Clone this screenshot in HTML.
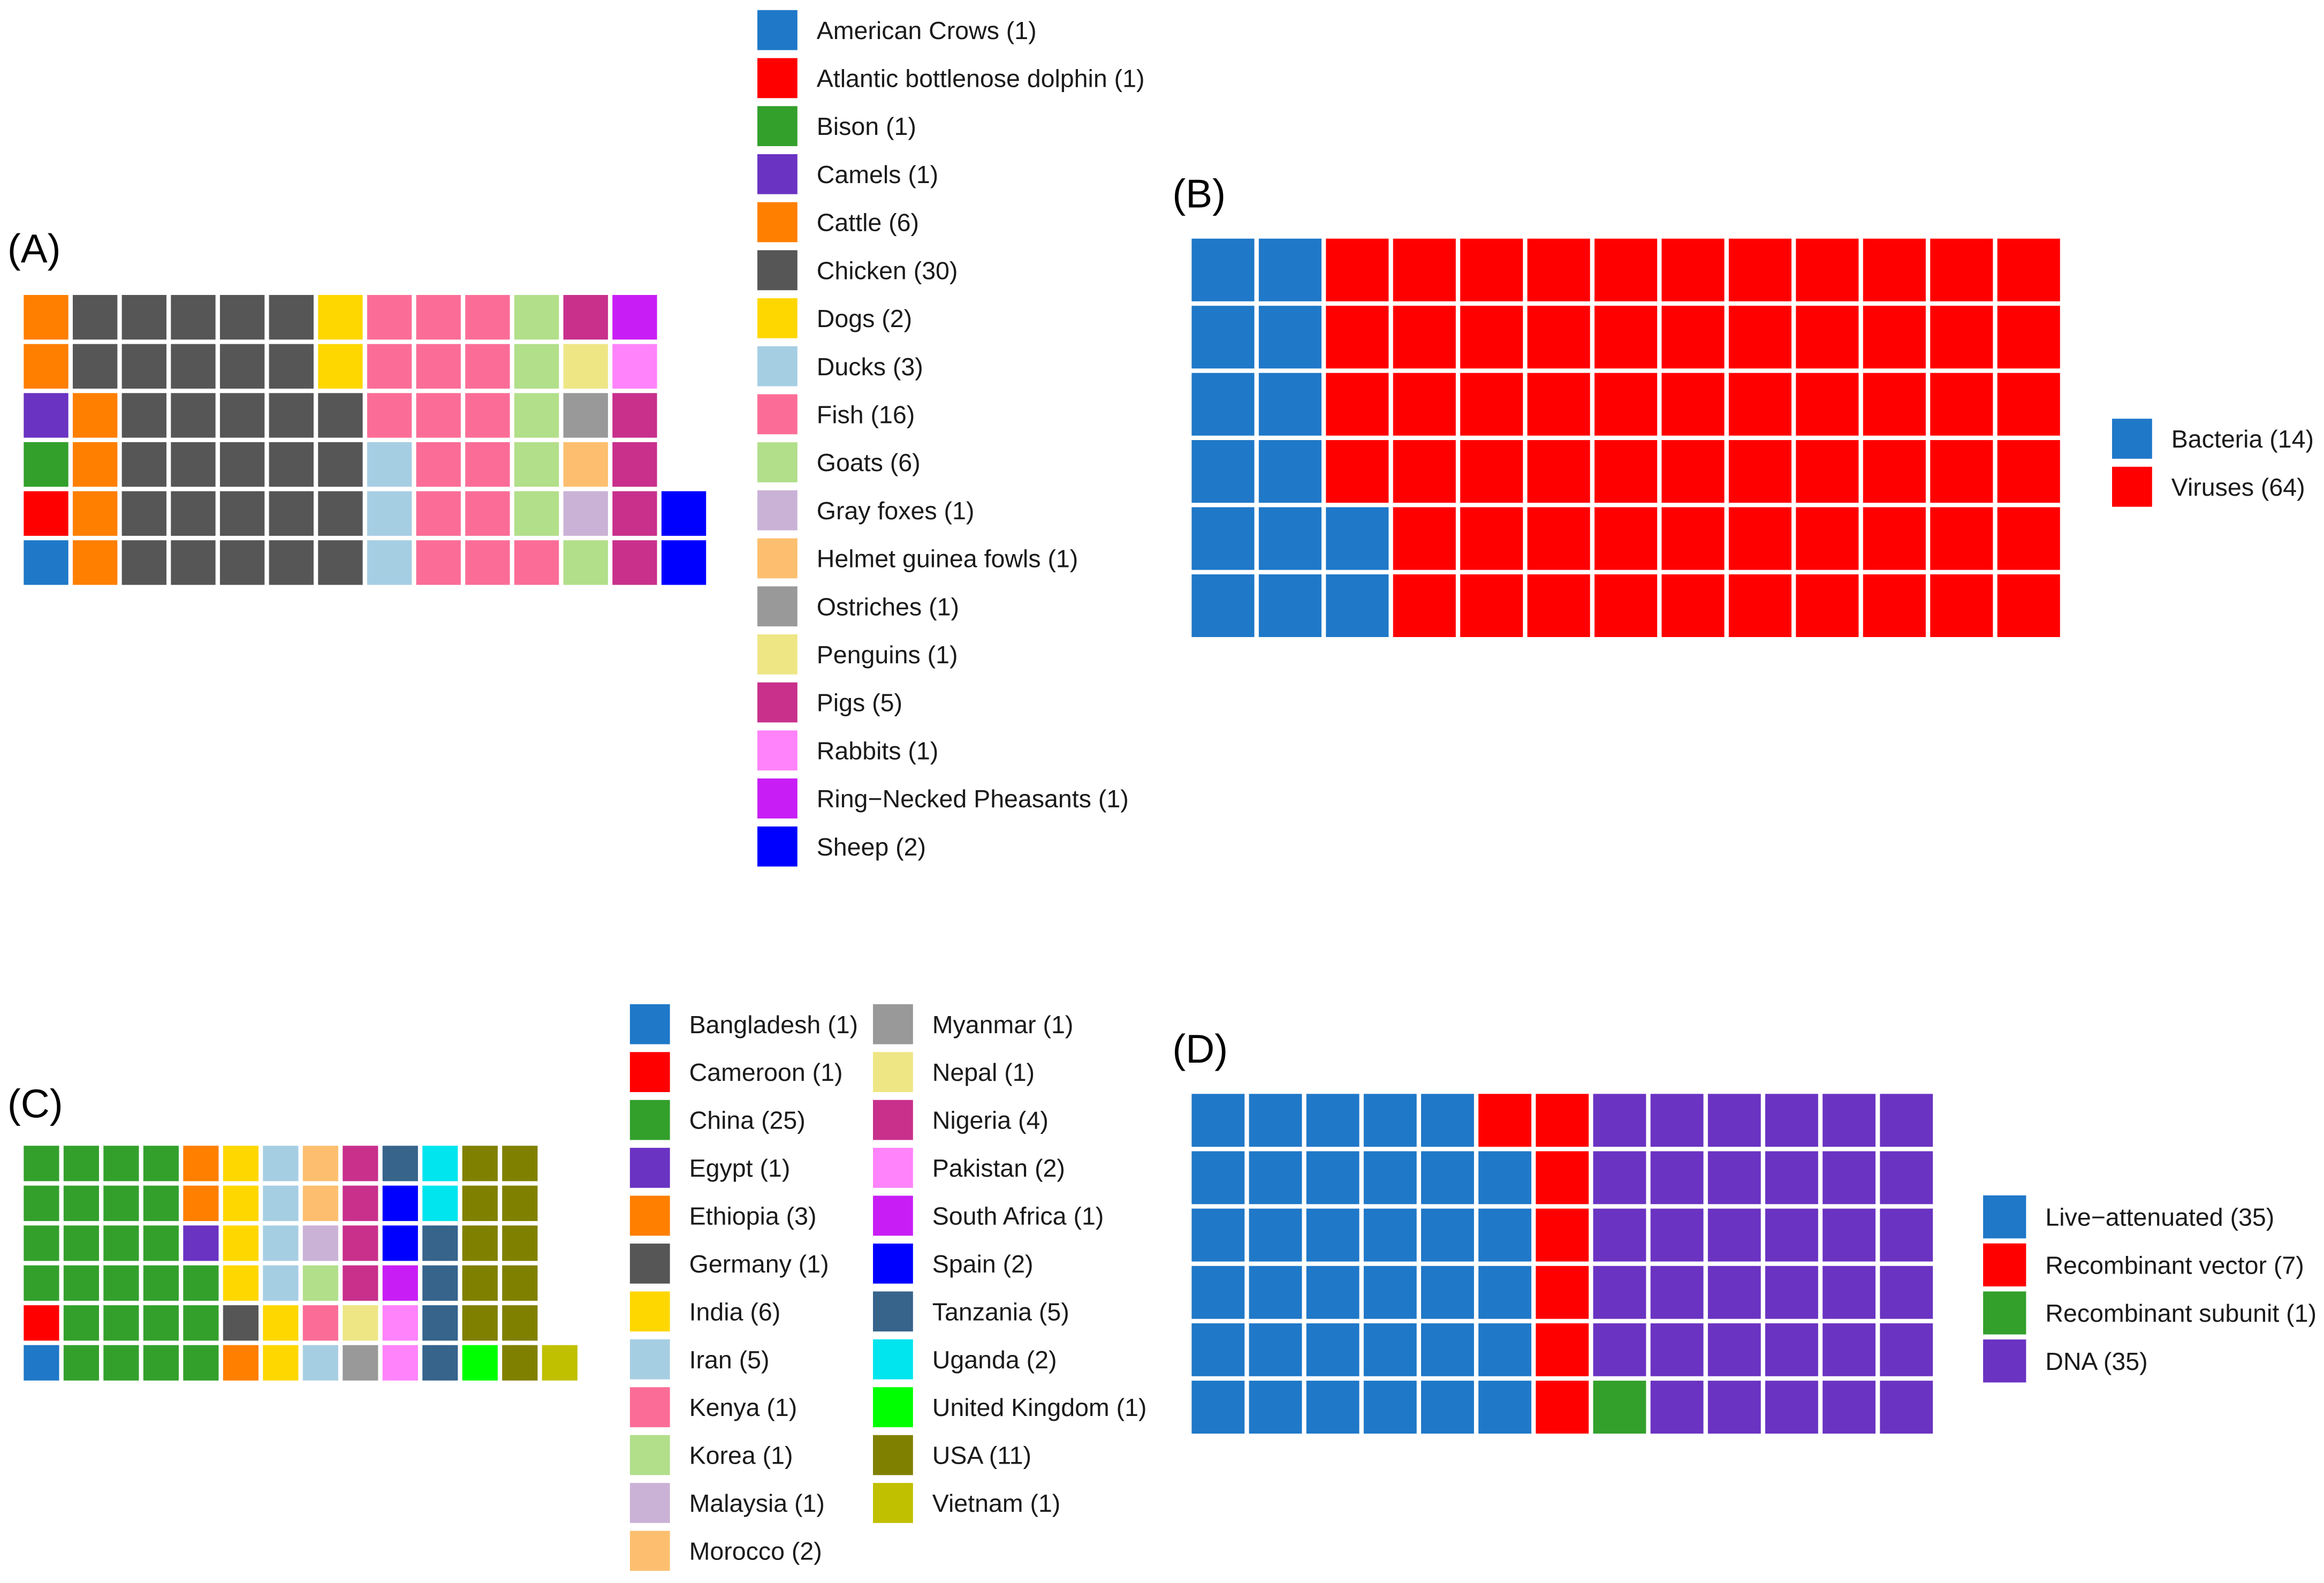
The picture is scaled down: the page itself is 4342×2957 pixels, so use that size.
<!DOCTYPE html>
<html><head><meta charset="utf-8"><style>
html,body{margin:0;padding:0;background:#fff;}
svg{display:block;font-family:"Liberation Sans",Arial,sans-serif;}
</style></head><body>
<svg id="fig" width="4342" height="2957" viewBox="0 0 1568 1068" preserveAspectRatio="none" xmlns="http://www.w3.org/2000/svg">
<rect width="1568" height="1068" fill="#fff"/>
<text x="5" y="177" font-size="27">(A)</text>
<text x="791" y="140" font-size="27">(B)</text>
<text x="5" y="754" font-size="27">(C)</text>
<text x="791" y="717" font-size="27">(D)</text>
</svg>
<script>
// Panel A: animal hosts
const hostNames = ["American Crows","Atlantic bottlenose dolphin","Bison","Camels","Cattle","Chicken","Dogs","Ducks","Fish","Goats","Gray foxes","Helmet guinea fowls","Ostriches","Penguins","Pigs","Rabbits","Ring\u2212Necked Pheasants","Sheep"];
const hostCounts = [1,1,1,1,6,30,2,3,16,6,1,1,1,1,5,1,1,2];
const hostColors = ["#1f78c8","#ff0000","#33a02c","#6a33c2","#ff7f00","#565656","#ffd700","#a6cee3","#fb6d97","#b2df8a","#cab2d6","#fdbf6f","#999999","#eee685","#c8308c","#ff83fa","#c81ef5","#0000ff"];
// Panel B: pathogen type
const pathNames = ["Bacteria","Viruses"];
const pathCounts = [14,64];
const pathColors = ["#1f78c8","#ff0000"];
// Panel C: countries
const countryNames = ["Bangladesh","Cameroon","China","Egypt","Ethiopia","Germany","India","Iran","Kenya","Korea","Malaysia","Morocco","Myanmar","Nepal","Nigeria","Pakistan","South Africa","Spain","Tanzania","Uganda","United Kingdom","USA","Vietnam"];
const countryCounts = [1,1,25,1,3,1,6,5,1,1,1,2,1,1,4,2,1,2,5,2,1,11,1];
const countryColors = ["#1f78c8","#ff0000","#33a02c","#6a33c2","#ff7f00","#565656","#ffd700","#a6cee3","#fb6d97","#b2df8a","#cab2d6","#fdbf6f","#999999","#eee685","#c8308c","#ff83fa","#c81ef5","#0000ff","#36648b","#00e5ee","#00ff00","#808000","#c0c000"];
// Panel D: vaccine types
const vacNames = ["Live\u2212attenuated","Recombinant vector","Recombinant subunit","DNA"];
const vacCounts = [35,7,1,35];
const vacColors = ["#1f78c8","#ff0000","#33a02c","#6a33c2"];

const svg = document.getElementById('fig');
const NS = "http://www.w3.org/2000/svg";
function waffle(counts, colors, names, x0, yTop, pitch, gap, prefix){
  const rows = 6; let k = 0;
  counts.forEach((c, ci) => {
    for (let i = 0; i < c; i++, k++) {
      const col = Math.floor(k / rows), row = k % rows;
      const r = document.createElementNS(NS, 'rect');
      r.setAttribute('x', x0 + col * pitch);
      r.setAttribute('y', yTop + (rows - 1 - row) * pitch);
      r.setAttribute('width', pitch - gap);
      r.setAttribute('height', pitch - gap);
      r.setAttribute('fill', colors[ci]);
      
      
      svg.appendChild(r);
    }
  });
}
function legend(counts, colors, names, sx, y0, step, sw, start, end, prefix){
  for (let i = start; i < end; i++) {
    const y = y0 + (i - start) * step;
    const g = document.createElementNS(NS, 'g');
    
    
    const r = document.createElementNS(NS, 'rect');
    r.setAttribute('x', sx); r.setAttribute('y', y - sw / 2);
    r.setAttribute('width', sw); r.setAttribute('height', sw);
    r.setAttribute('fill', colors[i]);
    const t = document.createElementNS(NS, 'text');
    t.setAttribute('x', sx + sw + 13); t.setAttribute('y', y + 6);
    t.setAttribute('font-size', '16.8'); t.setAttribute('fill', '#1a1a1a');
    t.textContent = names[i] + ' (' + counts[i] + ')';
    g.appendChild(r); g.appendChild(t); svg.appendChild(g);
  }
}
waffle(hostCounts, hostColors, hostNames, 16, 199, 33.1, 3, 'hosts');
legend(hostCounts, hostColors, hostNames, 511, 20.3, 32.4, 27, 0, 18, 'hosts');
waffle(pathCounts, pathColors, pathNames, 804, 161, 45.3, 3, 'pathogen');
legend(pathCounts, pathColors, pathNames, 1425, 296, 32.4, 27, 0, 2, 'pathogen');
waffle(countryCounts, countryColors, countryNames, 16, 773, 26.9, 3, 'country');
legend(countryCounts, countryColors, countryNames, 425, 691, 32.3, 27, 0, 12, 'country');
legend(countryCounts, countryColors, countryNames, 589, 691, 32.3, 27, 12, 23, 'country');
waffle(vacCounts, vacColors, vacNames, 804, 738, 38.7, 3, 'vaccine');
legend(vacCounts, vacColors, vacNames, 1338, 821, 32.4, 29, 0, 4, 'vaccine');
</script>
</body></html>
